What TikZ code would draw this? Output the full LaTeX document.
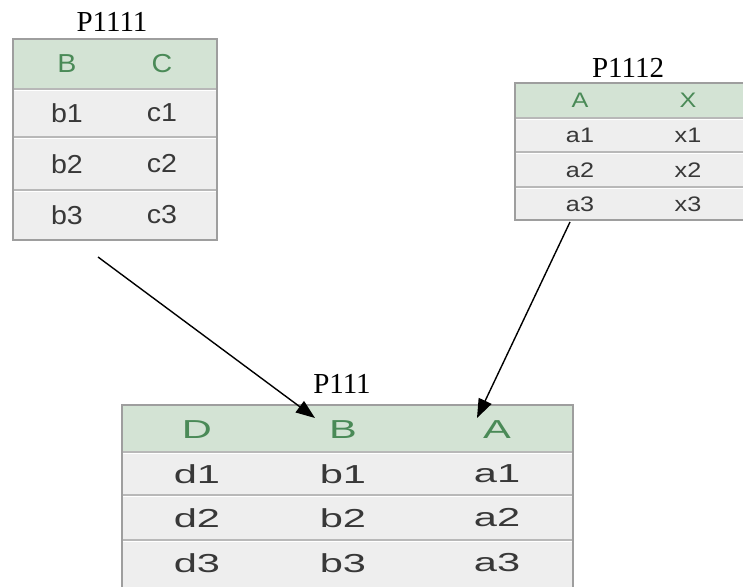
\documentclass[tikz,border=0pt]{standalone}
\usepackage{fontspec}
\setmainfont{Liberation Serif}
\newfontfamily\cellfont{Liberation Sans}
\usetikzlibrary{arrows.meta}
\definecolor{hdrbg}{HTML}{D3E3D4}
\definecolor{hdrtx}{HTML}{4A8A57}
\definecolor{bodybg}{HTML}{EEEEEE}
\definecolor{bodytx}{HTML}{383838}
\definecolor{frame}{HTML}{9E9E9E}
\definecolor{sep}{HTML}{B8B8B8}
\tikzset{
  x=1pt, y=-1pt,
  tbl/.style={draw=frame, line width=2pt, fill=bodybg},
  hdr/.style={fill=hdrbg},
  rowsep/.style={draw=sep, line width=1.5pt},
  rowhl/.style={draw=white, line width=1.5pt},
  title/.style={font=\fontsize{29}{29}\selectfont, text=black, inner sep=0pt},
  cellL/.style={font=\cellfont\fontsize{26}{26}\selectfont, inner sep=0pt, xscale=1.1},
  cellS/.style={font=\cellfont\fontsize{21}{21}\selectfont, inner sep=0pt, xscale=1.2},
  cellW/.style={font=\cellfont\fontsize{26}{26}\selectfont, inner sep=0pt, xscale=1.6},
  htext/.style={text=hdrtx},
  btext/.style={text=bodytx},
  link/.style={line width=1.4pt, -{Triangle[length=19pt,width=14pt]}}
}
\begin{document}
\begin{tikzpicture}
\useasboundingbox (0,0) rectangle (743,586);
% ---------- P1111 ----------
\node[title] (t1) at (112,22) {P1111};
\filldraw[tbl] (13,39) rectangle (217,240);
\fill[hdr] (14,40) rectangle (216,89);
\draw[rowsep] (14,89) -- (216,89);
\draw[rowhl] (14,90.5) -- (216,90.5);
\draw[rowsep] (14,137) -- (216,137);
\draw[rowhl] (14,138.5) -- (216,138.5);
\draw[rowsep] (14,190) -- (216,190);
\draw[rowhl] (14,191.5) -- (216,191.5);
\node[cellL,htext] (p1h1) at (67,64) {B};
\node[cellL,htext] (p1h2) at (162,64) {C};
\node[cellL,btext] (p1a1) at (67,113) {b1};
\node[cellL,btext] (p1b1) at (162,113) {c1};
\node[cellL,btext] (p1a2) at (67,164) {b2};
\node[cellL,btext] (p1b2) at (162,164) {c2};
\node[cellL,btext] (p1a3) at (67,215) {b3};
\node[cellL,btext] (p1b3) at (162,215) {c3};
% ---------- P1112 ----------
\node[title] (t2) at (628,68) {P1112};
\filldraw[tbl] (515,83) rectangle (760,220);
\fill[hdr] (516,84) rectangle (759,118);
\draw[rowsep] (516,118) -- (759,118);
\draw[rowhl] (516,119.5) -- (759,119.5);
\draw[rowsep] (516,152) -- (759,152);
\draw[rowhl] (516,153.5) -- (759,153.5);
\draw[rowsep] (516,187) -- (759,187);
\draw[rowhl] (516,188.5) -- (759,188.5);
\node[cellS,htext] (p2h1) at (580,100) {A};
\node[cellS,htext] (p2h2) at (688,100) {X};
\node[cellS,btext] (p2a1) at (580,135) {a1};
\node[cellS,btext] (p2b1) at (688,135) {x1};
\node[cellS,btext] (p2a2) at (580,170) {a2};
\node[cellS,btext] (p2b2) at (688,170) {x2};
\node[cellS,btext] (p2a3) at (580,204) {a3};
\node[cellS,btext] (p2b3) at (688,204) {x3};
% ---------- P111 ----------
\node[title] (t3) at (342,384) {P111};
\filldraw[tbl] (122,405) rectangle (573,600);
\fill[hdr] (123,406) rectangle (572,452);
\draw[rowsep] (123,452) -- (572,452);
\draw[rowhl] (123,453.5) -- (572,453.5);
\draw[rowsep] (123,495) -- (572,495);
\draw[rowhl] (123,496.5) -- (572,496.5);
\draw[rowsep] (123,540) -- (572,540);
\draw[rowhl] (123,541.5) -- (572,541.5);
\node[cellW,htext] (p3h1) at (197,430) {D};
\node[cellW,htext] (p3h2) at (343,430) {B};
\node[cellW,htext] (p3h3) at (497,430) {A};
\node[cellW,btext] (p3a1) at (197,474) {d1};
\node[cellW,btext] (p3b1) at (343,474) {b1};
\node[cellW,btext] (p3c1) at (497,474) {a1};
\node[cellW,btext] (p3a2) at (197,518) {d2};
\node[cellW,btext] (p3b2) at (343,518) {b2};
\node[cellW,btext] (p3c2) at (497,518) {a2};
\node[cellW,btext] (p3a3) at (197,563) {d3};
\node[cellW,btext] (p3b3) at (343,563) {b3};
\node[cellW,btext] (p3c3) at (497,563) {a3};
% ---------- connectors ----------
\coordinate (s1) at (98,257);
\coordinate (e1) at (315,418);
\coordinate (s2) at (570,222);
\coordinate (e2) at (477,418);
\draw[link] (s1) -- (e1);
\draw[link] (s2) -- (e2);
\end{tikzpicture}
\end{document}
